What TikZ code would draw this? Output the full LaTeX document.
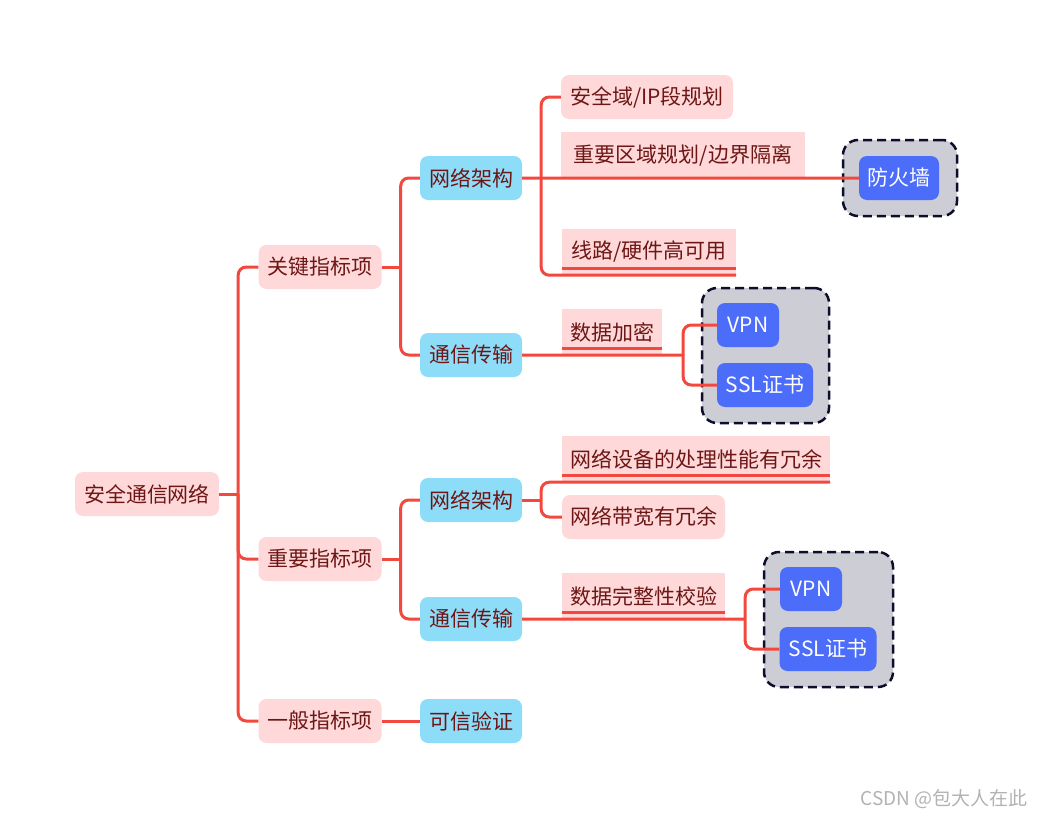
\documentclass[tikz,border=0pt]{standalone}
\usepackage{fontspec}
\setmainfont{Noto Sans CJK SC}
\usepackage{tikz}

\definecolor{pinkbg}{RGB}{255,217,217}
\definecolor{darktext}{RGB}{110,22,22}
\definecolor{skyblue}{RGB}{142,221,248}
\definecolor{itemblue}{RGB}{76,108,250}
\definecolor{linkred}{RGB}{243,72,62}
\definecolor{groupgray}{RGB}{204,205,213}
\definecolor{navy}{RGB}{14,14,44}

\begin{document}
\begin{tikzpicture}[
    x=1pt, y=-1pt,          % 画素と同じ単位で配置
    font=\fontsize{21}{25}\selectfont,
    pink_box/.style={fill=pinkbg, text=darktext, rounded corners=8pt, minimum height=44pt, inner sep=0pt},
    sky_box/.style={fill=skyblue, text=darktext, rounded corners=8pt, minimum height=44pt, minimum width=102pt, inner sep=0pt},
    line_box/.style={fill=pinkbg, text=darktext, minimum height=46pt, inner sep=0pt},
    tool_box/.style={fill=itemblue, text=white, rounded corners=8pt, minimum height=44pt, inner sep=0pt},
    group_box/.style={draw=navy, fill=groupgray, line width=2.5pt, dash pattern=on 9pt off 5pt, rounded corners=15pt, inner sep=0pt},
    branch/.style={draw=linkred, line width=3pt, rounded corners=8pt}
]
    \useasboundingbox (0,0) rectangle (1045,819);

    % --- 1. ルートと第2階層 ---
    \node [pink_box, minimum width=144pt] (root) at (147,494) {安全通信网络};
    \node [pink_box, minimum width=123pt] (key) at (320,267) {关键指标项};
    \node [pink_box, minimum width=123pt] (imp) at (320,559) {重要指标项};
    \node [pink_box, minimum width=123pt] (gen) at (320,721) {一般指标项};

    % --- 2. 第3階層（水色） ---
    \node [sky_box] (arch1)  at (471,178) {网络架构};
    \node [sky_box] (trans1) at (471,355) {通信传输};
    \node [sky_box] (arch2)  at (471,500) {网络架构};
    \node [sky_box] (trans2) at (471,619) {通信传输};
    \node [sky_box] (trust)  at (471,721) {可信验证};

    % --- 3. 第4階層（項目） ---
    \node [pink_box, minimum width=172pt] (zone) at (647,97) {安全域/IP段规划};
    \node [line_box, minimum width=244pt] (border) at (683,155) {重要区域规划/边界隔离};
    \node [line_box, minimum width=174pt] (ha) at (649,252) {线路/硬件高可用};
    \node [line_box, minimum width=100pt] (crypt) at (612,332) {数据加密};
    \node [line_box, minimum width=268pt] (perf) at (696,459) {网络设备的处理性能有冗余};
    \node [pink_box, minimum width=163pt] (bw) at (643.5,517) {网络带宽有冗余};
    \node [line_box, minimum width=163pt] (integ) at (643.5,596) {数据完整性校验};

    % --- 4. 点線の枠と手段 ---
    \node [group_box, minimum width=114pt, minimum height=76pt] (fw_group) at (900,178) {};
    \node [group_box, minimum width=127pt, minimum height=135pt] (grp1) at (765.5,355.5) {};
    \node [group_box, minimum width=129pt, minimum height=135pt] (grp2) at (828.5,619.5) {};

    \node [tool_box, minimum width=80pt] (fw) at (899,178) {防火墙};
    \node [tool_box, minimum width=62pt] (vpn1) at (748,325) {VPN};
    \node [tool_box, minimum width=96pt] (ssl1) at (765,385) {SSL证书};
    \node [tool_box, minimum width=62pt] (vpn2) at (811,589) {VPN};
    \node [tool_box, minimum width=97pt] (ssl2) at (828,649) {SSL证书};

    % --- 5. 接続線 ---
    \coordinate (j_root) at ([xshift=19pt]root.east);
    \draw [branch] (root.east) -- (j_root);
    \foreach \n in {key, imp, gen}
        \draw [branch] (j_root) |- (\n.west);

    \coordinate (j_key) at ([xshift=19pt]key.east);
    \draw [branch] (key.east) -- (j_key);
    \foreach \n in {arch1, trans1}
        \draw [branch] (j_key) |- (\n.west);

    \coordinate (j_imp) at ([xshift=19pt]imp.east);
    \draw [branch] (imp.east) -- (j_imp);
    \foreach \n in {arch2, trans2}
        \draw [branch] (j_imp) |- (\n.west);

    \draw [branch] (gen.east) -- (trust.west);

    % 網络架构（上）
    \coordinate (j_arch1) at ([xshift=19pt]arch1.east);
    \draw [branch] (arch1.east) -- (border.south west) -- (fw.west);
    \draw [branch] (j_arch1) |- (zone.west);
    \draw [branch] (j_arch1) |- (ha.south west) -- (ha.south east);

    % 通信传输（上）
    \coordinate (j_crypt) at ([xshift=21pt]crypt.south east);
    \draw [branch] (trans1.east) -- (crypt.south west) -- (j_crypt);
    \draw [branch] (j_crypt) |- (vpn1.west);
    \draw [branch] (j_crypt) |- (ssl1.west);

    % 網络架构（下）
    \coordinate (j_arch2) at ([xshift=19pt]arch2.east);
    \draw [branch] (arch2.east) -- (j_arch2);
    \draw [branch] (j_arch2) |- (perf.south west) -- (perf.south east);
    \draw [branch] (j_arch2) |- (bw.west);

    % 通信传输（下）
    \coordinate (j_integ) at ([xshift=20pt]integ.south east);
    \draw [branch] (trans2.east) -- (integ.south west) -- (j_integ);
    \draw [branch] (j_integ) |- (vpn2.west);
    \draw [branch] (j_integ) |- (ssl2.west);

    % 下線
    \foreach \n in {ha, crypt, perf, integ}
        \draw [branch] ([yshift=7pt]\n.south west) -- ([yshift=7pt]\n.south east);

    % --- 6. 透かし ---
    \node [text=black!30, font=\fontsize{19}{22}\selectfont] (watermark) at (944,799) {CSDN @包大人在此};

\end{tikzpicture}
\end{document}
